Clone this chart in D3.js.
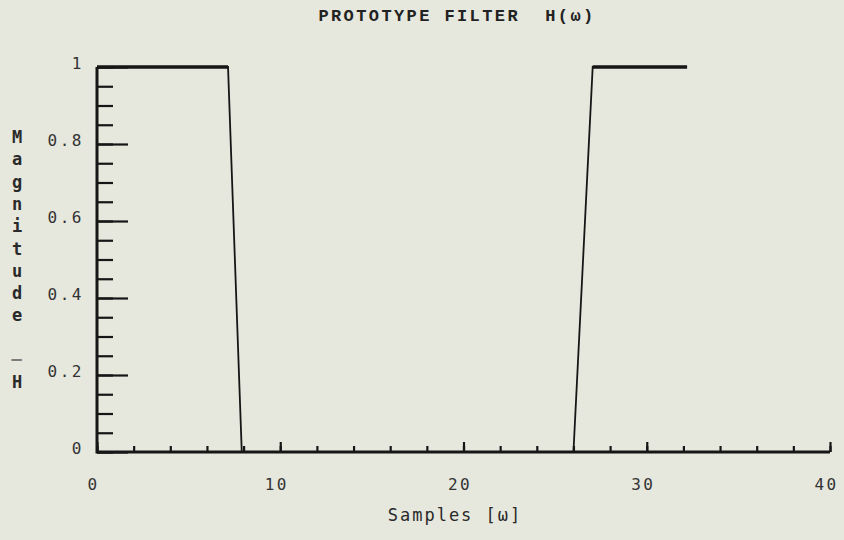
<!DOCTYPE html>
<html>
<head>
<meta charset="utf-8">
<script src="https://cdn.jsdelivr.net/npm/d3@7"></script>
<style>
  html, body { margin: 0; padding: 0; background: #e6e7dd; }
  svg { display: block; }
</style>
</head>
<body>
<div id="chart"></div>
<script>
const sampleX = [0, 7.15, 7.9, 26.0, 27.05, 32.2];
const magnitude = [1, 1, 0, 0, 1, 1];
const xMajorTicks = [0, 10, 20, 30, 40];
const xTickLabels = ['0', '10', '20', '30', '40'];
const xMinorTicks = d3.range(0, 41, 2);
const yMajorTicks = [0, 0.2, 0.4, 0.6, 0.8, 1];
const yTickLabels = ['0', '0.2', '0.4', '0.6', '0.8', '1'];
const yMinorTicks = d3.range(0, 21).map(i => i * 0.05);
const title = 'PROTOTYPE FILTER  H(\u03c9)';
const xTitle = 'Samples [\u03c9]';
const yTitle = 'Magnitude |H';

const width = 844, height = 540;
const margin = { top: 67, right: 14, bottom: 88, left: 97 };

const svg = d3.select('#chart')
  .append('svg')
  .attr('width', width)
  .attr('height', height);

const x = d3.scaleLinear().domain([0, 40]).range([margin.left, width - margin.right]);
const y = d3.scaleLinear().domain([0, 1]).range([height - margin.bottom, margin.top]);

const ink = '#161616';
const mono = '"DejaVu Sans Mono", monospace';

// x axis: minor ticks, then major ticks with labels
svg.append('g')
  .attr('transform', `translate(0,${y(0)})`)
  .call(d3.axisBottom(x).tickValues(xMinorTicks).tickSize(-6).tickFormat(''))
  .call(g => g.select('.domain').remove());

svg.append('g')
  .attr('class', 'x-major')
  .attr('transform', `translate(0,${y(0)})`)
  .call(d3.axisBottom(x).tickValues(xMajorTicks).tickSize(-10).tickPadding(27)
    .tickFormat((d, i) => xTickLabels[i]))
  .call(g => g.select('.domain').remove());

// y axis
svg.append('g')
  .attr('transform', `translate(${x(0)},0)`)
  .call(d3.axisLeft(y).tickValues(yMinorTicks).tickSize(-16).tickFormat(''))
  .call(g => g.select('.domain').remove());

svg.append('g')
  .attr('class', 'y-major')
  .attr('transform', `translate(${x(0)},0)`)
  .call(d3.axisLeft(y).tickValues(yMajorTicks).tickSize(-31).tickPadding(13)
    .tickFormat((d, i) => yTickLabels[i]))
  .call(g => g.select('.domain').remove());

svg.selectAll('.tick line').attr('stroke', ink).attr('stroke-width', 2.2);
svg.selectAll('.tick text')
  .attr('fill', '#333')
  .style('font-family', mono)
  .style('font-size', '16px')
  .style('letter-spacing', '2.5px');
svg.selectAll('.x-major .tick text').attr('dx', '-4px');
svg.selectAll('.y-major .tick text').attr('dy', '0.1em');

// axis frame lines (left and bottom)
svg.append('path')
  .attr('d', `M${x(0)},${y(1)}V${y(0)}H${x(40)}`)
  .attr('fill', 'none')
  .attr('stroke', ink)
  .attr('stroke-width', 3);

// filter response
const line = d3.line()
  .x((d, i) => x(sampleX[i]))
  .y(d => y(d));

svg.append('path')
  .datum(magnitude)
  .attr('d', line)
  .attr('fill', 'none')
  .attr('stroke', ink)
  .attr('stroke-width', 1.8);

svg.append('path')
  .datum(magnitude)
  .attr('d', d3.line().x((d, i) => x(sampleX[i])).y(d => y(d)).defined(d => d === 1))
  .attr('fill', 'none')
  .attr('stroke', ink)
  .attr('stroke-width', 3.5);

// title
svg.append('text')
  .attr('x', 457)
  .attr('y', 21)
  .attr('text-anchor', 'middle')
  .attr('fill', '#222')
  .style('white-space', 'pre')
  .style('font-family', '"Liberation Mono", monospace')
  .style('font-weight', 'bold')
  .style('font-size', '17px')
  .style('letter-spacing', '2.4px')
  .text(title);

// x title
svg.append('text')
  .attr('x', 455)
  .attr('y', 521)
  .attr('text-anchor', 'middle')
  .attr('fill', '#2a2a2a')
  .style('font-family', mono)
  .style('font-size', '17px')
  .style('letter-spacing', '2px')
  .text(xTitle);

// y title, stacked letters
const yt = svg.append('text')
  .attr('fill', '#2a2a2a')
  .attr('text-anchor', 'middle')
  .style('font-family', mono)
  .style('font-size', '17px')
  .style('font-weight', 'bold');

yTitle.split('').forEach((c, i) => {
  const cy = 143 + i * 22.3;
  if (c === '|') {
    svg.append('text')
      .attr('transform', `translate(17,${cy - 6}) rotate(90)`)
      .attr('text-anchor', 'middle')
      .attr('dy', '0.35em')
      .attr('fill', '#2a2a2a')
      .style('font-family', mono)
      .style('font-size', '10px')
      .style('font-weight', 'bold')
      .text(c);
  } else {
    yt.append('tspan').attr('x', 17).attr('y', cy).text(c);
  }
});
</script>
</body>
</html>
